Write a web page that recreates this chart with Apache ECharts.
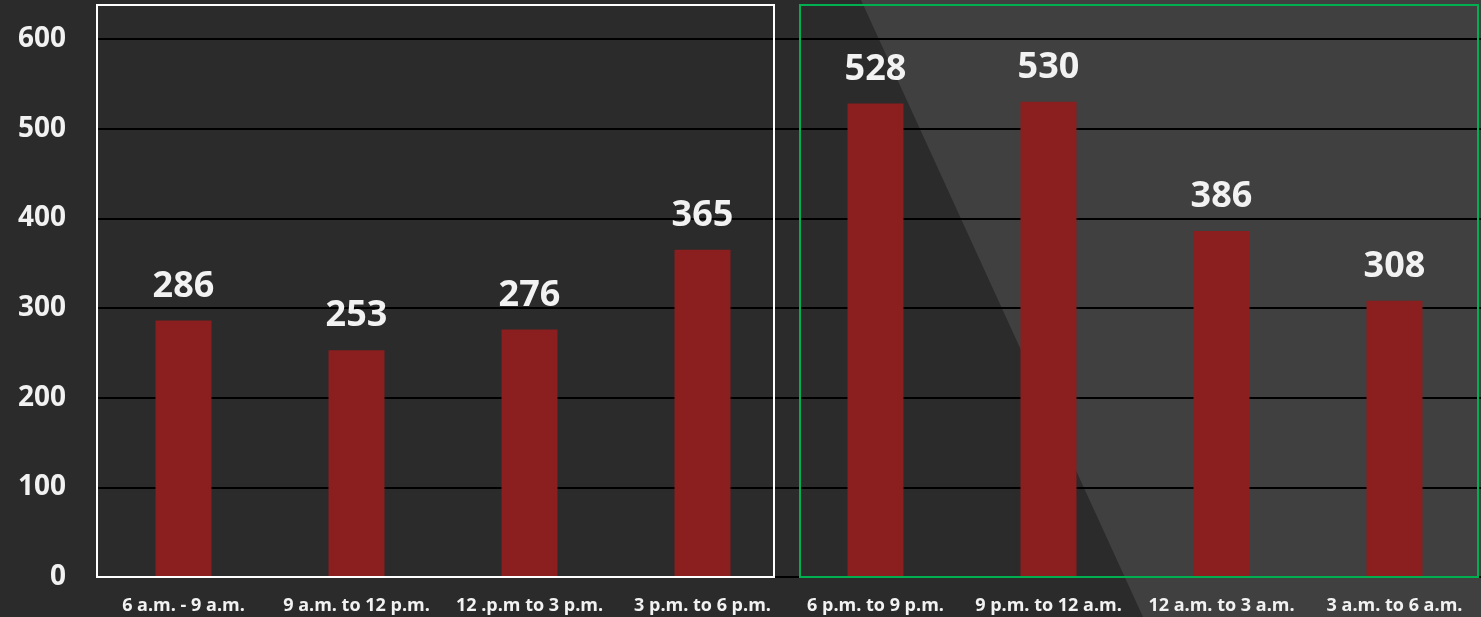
<!DOCTYPE html>
<html><head><meta charset="utf-8">
<script src="https://cdn.jsdelivr.net/npm/echarts@6/dist/echarts.min.js"></script>
<style>html,body{margin:0;padding:0;background:#2b2b2b}#c{width:1481px;height:617px}</style>
</head><body><div id="c"></div>
<script>
const categories = ["6 a.m. - 9 a.m.", "9 a.m. to 12 p.m.", "12 .p.m to 3 p.m.", "3 p.m. to 6 p.m.", "6 p.m. to 9 p.m.", "9 p.m. to 12 a.m.", "12 a.m. to 3 a.m.", "3 a.m. to 6 a.m."];
const values = [286, 253, 276, 365, 528, 530, 386, 308];
const yTicks = [0, 100, 200, 300, 400, 500, 600];

const chart = echarts.init(document.getElementById('c'));
chart.setOption({
  backgroundColor: '#2b2b2b',
  animation: false,
  grid: {left: 97, right: 0, top: 39, bottom: 40},
  graphic: [
    {type: 'polygon', z: -10, shape: {points: [[861, 0], [1481, 0], [1481, 617], [1143, 617]]}, style: {fill: '#404040'}},
    {type: 'rect', z: 10, shape: {x: 97, y: 5, width: 677, height: 572}, style: {fill: 'none', stroke: '#ffffff', lineWidth: 2}},
    {type: 'rect', z: 10, shape: {x: 800, y: 5, width: 678, height: 572}, style: {fill: 'none', stroke: '#00b050', lineWidth: 2}}
  ],
  xAxis: {
    type: 'category', data: categories,
    axisLine: {show: true, lineStyle: {color: '#000000', width: 2}},
    axisTick: {show: false},
    axisLabel: {color: '#f2f2f2', fontFamily: 'Open Sans', fontWeight: 'bold', fontSize: 18, margin: 20, interval: 0}
  },
  yAxis: {
    type: 'value', min: 0, max: 600, interval: 100,
    axisLine: {show: false}, axisTick: {show: false},
    splitLine: {lineStyle: {color: '#000000', width: 2}},
    axisLabel: {color: '#f2f2f2', fontFamily: 'Open Sans', fontWeight: 'bold', fontSize: 28, margin: 31,
      padding: [4, 0, 0, 0],
      formatter: v => yTicks.includes(v) ? String(v) : ''}
  },
  series: [{
    type: 'bar', data: values, barWidth: 56,
    itemStyle: {color: '#8b1e1e'},
    label: {show: true, position: 'top', distance: 16, color: '#f2f2f2', fontFamily: 'Open Sans', fontWeight: 'bold', fontSize: 36}
  }]
});
</script></body></html>
